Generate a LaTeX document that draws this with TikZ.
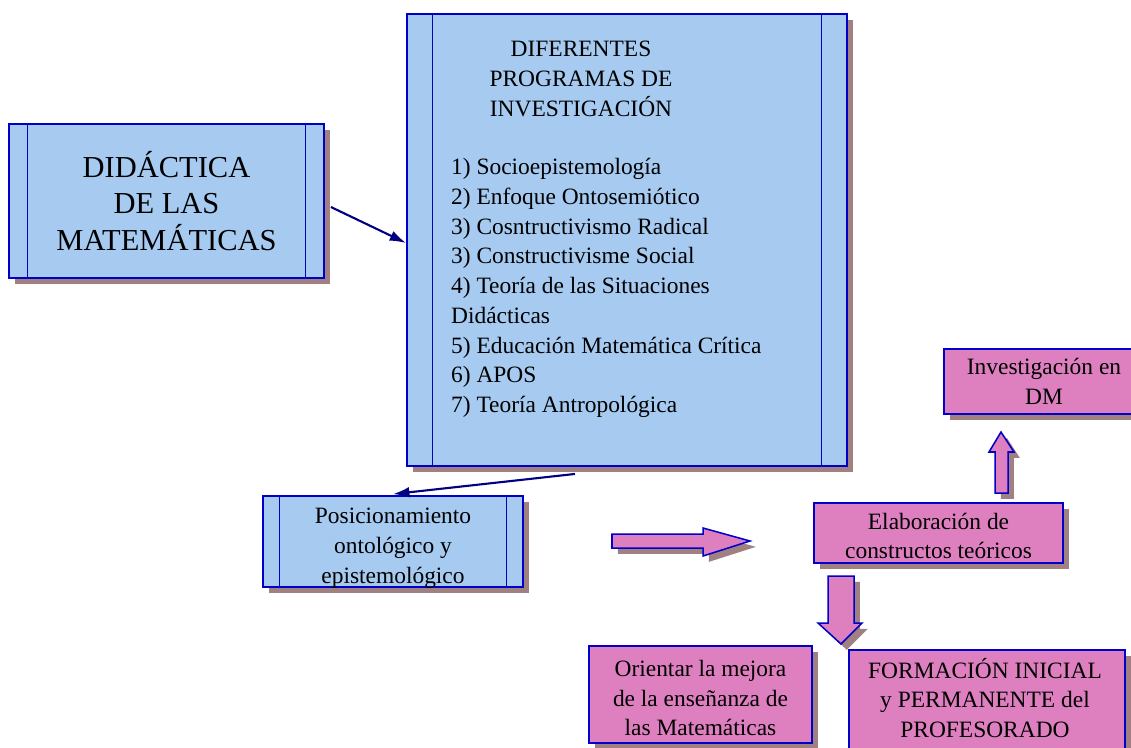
\documentclass[tikz,border=0pt]{standalone}
\usepackage{fontspec}
\setmainfont{Liberation Serif}
\usetikzlibrary{arrows.meta,shadows}

\definecolor{cajaazul}{RGB}{166,202,240}
\definecolor{cajarosa}{RGB}{222,128,192}
\definecolor{borde}{RGB}{0,0,200}
\definecolor{sombra}{RGB}{160,128,128}
\definecolor{flecha}{RGB}{0,0,128}

\newcommand{\ux}{0.03cm}

\tikzset{
  caja/.style={draw=borde, line width=1.6pt, inner sep=0pt,
    drop shadow={shadow xshift=5pt, shadow yshift=-5pt, fill=sombra, opacity=1}},
  azul/.style={caja, fill=cajaazul},
  rosa/.style={caja, fill=cajarosa},
  bandas/.style={path picture={
    \draw[borde, line width=1.2pt]
      ([xshift=#1]path picture bounding box.north west) -- ([xshift=#1]path picture bounding box.south west)
      ([xshift=-#1]path picture bounding box.north east) -- ([xshift=-#1]path picture bounding box.south east);}},
  texto/.style={align=center, font=\fontsize{20}{25.4}\selectfont},
  enlace/.style={flecha, line width=1.8pt, -{Latex[length=14pt,width=9pt]}},
}

\begin{document}
\begin{tikzpicture}[x=\ux, y=-\ux]
        \useasboundingbox (0,0) rectangle (1131,747);

        % cajas azules
        \node[azul, bandas=16pt, minimum width=315*\ux, minimum height=154*\ux,
              align=center, font=\fontsize{26}{31.5}\selectfont] (dm) at (166.5,201) {DIDÁCTICA\\DE LAS\\MATEMÁTICAS};
        \node[azul, bandas=22pt, minimum width=440*\ux, minimum height=452*\ux] (prog) at (627,240) {};
        \node[texto] (titulo) at (581,79) {DIFERENTES\\PROGRAMAS DE\\INVESTIGACIÓN};
        \node[texto, align=left, anchor=west] (lista) at (447,288) {1) Socioepistemología\\2) Enfoque Ontosemiótico\\3) Cosntructivismo Radical\\3) Constructivisme Social\\4) Teoría de las Situaciones\\Didácticas\\5) Educación Matemática Crítica\\6) APOS\\7) Teoría Antropológica};
        \node[azul, bandas=14pt, minimum width=260*\ux, minimum height=91*\ux] (pos) at (393,541.5) {};
        \node[texto] (pos-t) at (393,548) {Posicionamiento\\ontológico y\\epistemológico};

        \draw[enlace] ([shift={(6,6)}]dm.east) -- ([shift={(0,3)}]prog.west);
        \draw[enlace] ([shift={(-52,7)}]prog.south) -- ([shift={(0,-1)}]pos.north);

        % cajas rosas
        \node[rosa, texto, minimum width=200*\ux, minimum height=65*\ux] (inv) at (1044,381.5) {Investigación en\\DM};
        \node[rosa, minimum width=249*\ux, minimum height=60*\ux] (elab) at (938.5,533) {};
        \node[texto] (elab-t) at (938.5,536) {Elaboración de\\constructos teóricos};
        \node[rosa, minimum width=223*\ux, minimum height=97*\ux] (ori) at (700.5,694.5) {};
        \node[texto] (ori-t) at (700.5,698) {Orientar la mejora\\de la enseñanza de\\las Matemáticas};
        \node[rosa, minimum width=276*\ux, minimum height=105*\ux] (form) at (987,702.5) {};
        \node[texto] (form-t) at (985,698) {FORMACIÓN INICIAL\\y PERMANENTE del\\PROFESORADO};

        % flechas de bloque
        \draw[rosa, line width=1.3pt] (612,534) -- (703,534) -- (703,528) -- (750,541) -- (703,556) -- (703,548) -- (612,548) -- cycle;
        \draw[rosa, line width=1.3pt] (995,493) -- (995,452) -- (989,452) -- (1001,432) -- (1014,452) -- (1008,452) -- (1008,493) -- cycle;
        \draw[rosa, line width=1.3pt] (828,576) -- (854,576) -- (854,623) -- (862,623) -- (841,644) -- (818,623) -- (828,623) -- cycle;

    \end{tikzpicture}
\end{document}
